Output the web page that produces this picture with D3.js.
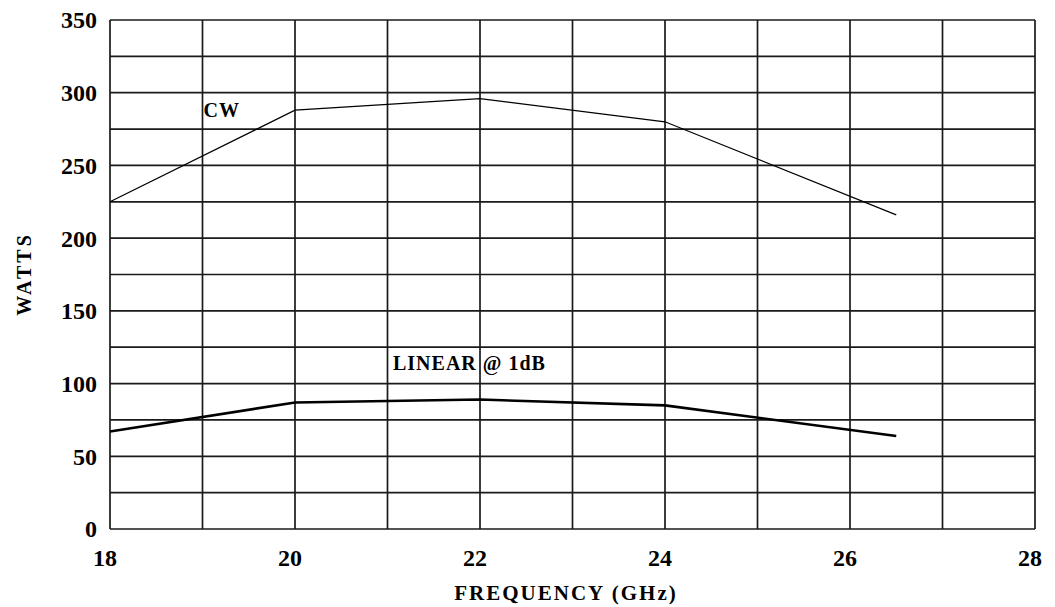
<!DOCTYPE html>
<html>
<head>
<meta charset="utf-8">
<script src="https://cdn.jsdelivr.net/npm/d3@7"></script>
<style>
  body { margin: 0; background: #fff; }
  text { font-family: "Liberation Serif", "Times New Roman", serif; font-weight: bold; fill: #000; }
</style>
</head>
<body>
<div id="chart"></div>
<script>
var freqs = [18, 20, 22, 24, 26.5]
var cw = [225, 288, 296, 280, 216]
var linear = [67, 87, 89, 85, 64]

var xTicks = [18, 20, 22, 24, 26, 28]
var yTicks = [0, 50, 100, 150, 200, 250, 300, 350]

var w = 1055
var h = 607
// plot box (note: "top" is taken by window.top)
var pLeft = 110, pRight = 1035, pTop = 20, pBottom = 529

var svg = d3.select('#chart').append('svg')
  .attr('width', w)
  .attr('height', h)

var x = d3.scaleLinear().domain([18, 28]).range([pLeft, pRight])
var y = d3.scaleLinear().domain([0, 350]).range([pBottom, pTop])

// grid: every 1 GHz and every 25 W
var grid = svg.append('g')
  .attr('stroke', '#1a1a1a')
  .attr('stroke-width', 1.7)

grid.selectAll('line.v').data(d3.range(18, 29, 1)).enter()
  .append('line')
  .attr('x1', d => x(d)).attr('x2', d => x(d))
  .attr('y1', pTop).attr('y2', pBottom)

grid.selectAll('line.h').data(d3.range(0, 351, 25)).enter()
  .append('line')
  .attr('x1', pLeft).attr('x2', pRight)
  .attr('y1', d => y(d)).attr('y2', d => y(d))

// tick labels
svg.append('g').selectAll('text').data(yTicks).enter()
  .append('text')
  .attr('x', pLeft - 13)
  .attr('y', d => y(d))
  .attr('dy', '0.35em')
  .attr('text-anchor', 'end')
  .style('font-size', '24px')
  .text(d => d)

svg.append('g').selectAll('text').data(xTicks).enter()
  .append('text')
  .attr('x', d => x(d) - 5)
  .attr('y', 566)
  .attr('text-anchor', 'middle')
  .style('font-size', '24px')
  .text(d => d)

// axis titles
svg.append('text')
  .attr('x', 566)
  .attr('y', 600)
  .attr('text-anchor', 'middle')
  .style('font-size', '21px')
  .style('letter-spacing', '2px')
  .text('FREQUENCY (GHz)')

svg.append('text')
  .attr('transform', 'translate(31,274) rotate(-90)')
  .attr('text-anchor', 'middle')
  .style('font-size', '20px')
  .style('letter-spacing', '3px')
  .text('WATTS')

// curves
var line = d3.line()
  .x((d, i) => x(freqs[i]))
  .y(d => y(d))

svg.append('path')
  .datum(cw)
  .attr('d', line)
  .attr('fill', 'none')
  .attr('stroke', '#000')
  .attr('stroke-width', 1.2)

svg.append('path')
  .datum(linear)
  .attr('d', line)
  .attr('fill', 'none')
  .attr('stroke', '#000')
  .attr('stroke-width', 2.6)

// curve labels
svg.append('text')
  .attr('x', x(19) + 1)
  .attr('y', y(288) + 7)
  .style('font-size', '20px')
  .style('letter-spacing', '1px')
  .text('CW')

svg.append('text')
  .attr('x', 393)
  .attr('y', 370)
  .style('font-size', '20px')
  .style('letter-spacing', '1px')
  .text('LINEAR @ 1dB')
</script>
</body>
</html>
